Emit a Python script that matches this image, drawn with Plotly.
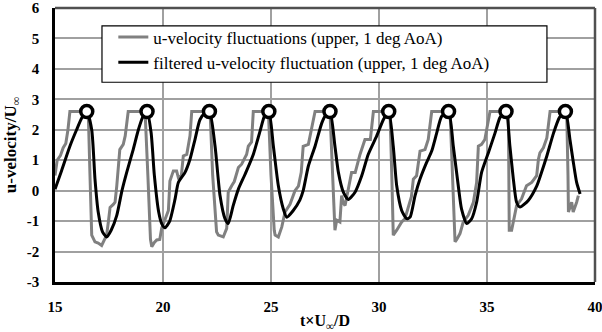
import plotly.graph_objects as go

# raw u-velocity fluctuations (gray)
raw_t = [15.0, 15.1, 15.25, 15.38, 15.5, 15.6, 15.69, 16.54, 16.62, 16.70, 16.85, 17.0, 17.16, 17.3, 17.39,
         17.47, 17.55, 17.7, 17.78, 17.86, 17.95, 18.0, 18.16, 18.25, 18.39, 19.17, 19.3, 19.42, 19.48, 19.6,
         19.71, 19.85, 19.94, 20.1, 20.25, 20.32, 20.48, 20.63, 20.71, 20.85, 20.94, 21.1, 21.17, 21.25, 21.33,
         22.18, 22.3, 22.44, 22.48, 22.56, 22.79, 22.95, 23.02, 23.18, 23.3, 23.49, 23.64, 23.87, 23.95, 24.1,
         24.18, 24.88, 25.0, 25.15, 25.19, 25.34, 25.5, 25.65, 25.88, 26.11, 26.27, 26.4, 26.49, 26.73, 26.88,
         27.04, 27.73, 27.85, 27.96, 28.04, 28.19, 28.27, 28.35, 28.43, 28.55, 28.73, 28.9, 29.12, 29.35, 29.6,
         29.74, 30.51, 30.6, 30.66, 30.82, 31.05, 31.2, 31.36, 31.5, 31.59, 31.74, 31.9, 32.13, 32.28, 32.44,
         33.29, 33.42, 33.52, 33.6, 33.75, 33.9, 34.13, 34.37, 34.52, 34.6, 34.75, 34.9, 35.14, 35.99, 36.03,
         36.14, 36.22, 36.37, 36.6, 36.83, 37.07, 37.3, 37.38, 37.45, 37.61, 37.77, 37.92, 38.69, 38.75, 38.77,
         38.92, 38.99, 39.15, 39.23]
raw_u = [0.50, 1.0, 1.15, 1.41, 1.55, 2.0, 2.6, 2.6, 0.5, -1.46, -1.68, -1.72, -1.80, -1.6, -1.46,
         -1.03, -0.55, -0.45, -0.38, 0.16, 1.0, 1.35, 1.52, 1.8, 2.6, 2.6, 0.5, -1.6, -1.84, -1.7,
         -1.62, -1.6, -1.23, -0.9, -0.65, 0.32, 0.65, 0.65, 0.43, 0.5, 1.14, 1.19, 1.46, 1.8, 2.6,
         2.6, 0.5, -1.2, -1.35, -1.46, -1.52, -1.24, -0.05, 0.16, 0.3, 0.76, 0.87, 1.19, 1.46, 1.6,
         2.6, 2.6, 0.5, -1.3, -1.46, -1.52, -1.19, -0.7, -0.45, 0.0, 0.15, 0.6, 1.46, 1.52, 2.0,
         2.6, 2.6, 0.3, -1.3, -0.97, -1.03, -0.16, -0.4, -0.49, 0.0, 0.6, 0.6, 1.19, 1.68, 1.68,
         2.6, 2.6, 0.3, -1.46, -1.3, -1.03, -0.92, -0.49, -0.2, 0.38, 0.49, 1.3, 1.35, 1.68, 2.6,
         2.6, 0.3, -1.68, -1.6, -1.41, -1.03, -0.81, -0.38, 0.27, 1.46, 1.52, 1.68, 2.6, 2.6, -1.3,
         -1.3, -0.97, -0.49, -0.27, 0.16, 0.27, 0.49, 1.03, 1.24, 1.41, 1.73, 2.6, 2.6, 0.5, -0.7,
         -0.38, -0.7, -0.38, -0.16]

# filtered u-velocity fluctuation (black)
filt_t = [15.0, 15.3, 15.69, 16.0, 16.25, 16.47, 16.7, 16.85, 17.0, 17.2, 17.39, 17.6, 17.86, 18.1, 18.32,
          18.6, 18.86, 19.05, 19.26, 19.45, 19.6, 19.8, 19.95, 20.09, 20.3, 20.56, 20.71, 21.02, 21.25, 21.48,
          21.71, 21.95, 22.15, 22.41, 22.64, 22.87, 23.02, 23.25, 23.49, 23.80, 24.18, 24.49, 24.7, 24.9,
          25.11, 25.34, 25.57, 25.73, 26.03, 26.34, 26.49, 26.73, 27.04, 27.35, 27.55, 27.73, 27.96, 28.12,
          28.35, 28.58, 28.89, 29.2, 29.5, 29.89, 30.2, 30.45, 30.66, 30.82, 31.05, 31.28, 31.44, 31.67,
          31.9, 32.2, 32.44, 32.67, 32.9, 33.22, 33.44, 33.67, 33.82, 34.06, 34.29, 34.52, 34.75, 35.06,
          35.37, 35.6, 35.88, 36.06, 36.22, 36.37, 36.53, 36.91, 37.3, 37.5, 37.77, 38.08, 38.35, 38.63,
          38.84, 39.0, 39.15, 39.31]
filt_u = [0.05, 0.65, 1.46, 2.0, 2.4, 2.6, 2.0, 0.39, -0.7, -1.35, -1.52, -1.3, -0.81, 0.0, 0.6,
          1.3, 2.0, 2.4, 2.6, 1.9, 0.5, -0.7, -1.1, -1.22, -1.02, -0.27, 0.27, 0.6, 1.03, 1.68,
          2.33, 2.55, 2.6, 1.46, -0.16, -0.92, -1.08, -0.49, 0.05, 0.54, 1.19, 1.95, 2.45, 2.6,
          1.46, 0.16, -0.6, -0.87, -0.65, -0.3, 0.0, 0.81, 1.46, 2.22, 2.5, 2.6, 1.46, 0.6,
          -0.05, -0.29, -0.05, 0.49, 1.19, 1.79, 2.33, 2.6, 1.46, 0.16, -0.65, -0.92, -0.87, -0.16,
          0.38, 0.92, 1.3, 1.89, 2.44, 2.6, 1.46, 0.16, -0.6, -1.08, -0.92, -0.38, 0.6, 1.24,
          1.89, 2.4, 2.6, 1.46, 0.38, -0.38, -0.54, -0.32, 0.15, 0.55, 1.14, 1.89, 2.4, 2.6,
          1.68, 0.92, 0.27, -0.11]

# peak markers
peak_t = [16.47, 19.26, 22.15, 24.9, 27.73, 30.45, 33.22, 35.88, 38.63]
peak_u = [2.6, 2.6, 2.6, 2.6, 2.6, 2.6, 2.6, 2.6, 2.6]

x_ticks = [15, 20, 25, 30, 35, 40]
y_ticks = [-3, -2, -1, 0, 1, 2, 3, 4, 5, 6]

serif = "Liberation Serif"

fig = go.Figure()
fig.add_trace(go.Scatter(x=raw_t, y=raw_u, mode="lines",
                         line=dict(color="#808080", width=3),
                         name="u-velocity fluctuations (upper, 1 deg AoA)"))
fig.add_trace(go.Scatter(x=filt_t, y=filt_u, mode="lines",
                         line=dict(color="#000000", width=3, shape="spline", smoothing=0.6),
                         name="filtered u-velocity fluctuation (upper, 1 deg AoA)"))
fig.add_trace(go.Scatter(x=peak_t, y=peak_u, mode="markers",
                         marker=dict(symbol="circle", size=12, color="white",
                                     line=dict(color="black", width=3.5)),
                         showlegend=False))

fig.update_layout(
    width=602, height=332,
    margin=dict(l=55, r=7, t=8, b=50, autoexpand=False),
    paper_bgcolor="white", plot_bgcolor="white",
    font=dict(family=serif, color="black"),
    legend=dict(x=0.108, y=0.958, xanchor="left", yanchor="top",
                bgcolor="rgba(0,0,0,0)", borderwidth=0,
                font=dict(family=serif, size=17, color="black"),
                itemwidth=30, tracegroupgap=0),
    xaxis=dict(range=[15, 40], tickvals=x_ticks, ticktext=[str(v) for v in x_ticks],
               showgrid=True, gridcolor="#a0a0a0", gridwidth=1.5,
               showline=True, linecolor="black", linewidth=2.5,
               zeroline=False, ticks="outside", ticklen=9, tickcolor="rgba(0,0,0,0)",
               automargin=False, ticklabeloverflow="allow",
               tickfont=dict(family=serif, size=15, color="black", weight="bold"),
               title=dict(text="t×U<sub>∞</sub>/D", standoff=2,
                          font=dict(family=serif, size=16, color="black", weight="bold"))),
    yaxis=dict(range=[-3, 6], tickvals=y_ticks, ticktext=[str(v) for v in y_ticks],
               showgrid=True, gridcolor="#a0a0a0", gridwidth=1.5,
               showline=True, linecolor="black", linewidth=2.5,
               zeroline=False, ticks="outside", ticklen=10, tickcolor="rgba(0,0,0,0)",
               automargin=False, ticklabeloverflow="allow",
               tickfont=dict(family=serif, size=15, color="black", weight="bold"),
               title=dict(text="u-velocity/U<sub>∞</sub>", standoff=6,
                          font=dict(family=serif, size=17, color="black", weight="bold"))),
    shapes=[dict(type="line", xref="paper", yref="paper", x0=0, x1=1, y0=1, y1=1,
                 line=dict(color="#505050", width=2.5)),
            dict(type="line", xref="paper", yref="paper", x0=1, x1=1, y0=0, y1=1,
                 line=dict(color="#505050", width=2.5)),
            dict(type="rect", xref="paper", yref="paper", x0=0.087, x1=0.911, y0=0.729, y1=0.935,
                 fillcolor="white", line=dict(color="black", width=1.2), layer="above")],
)

fig.write_html("out.html", config={"displayModeBar": False},
               post_script="document.body.style.margin='0';document.body.style.padding='0';")
